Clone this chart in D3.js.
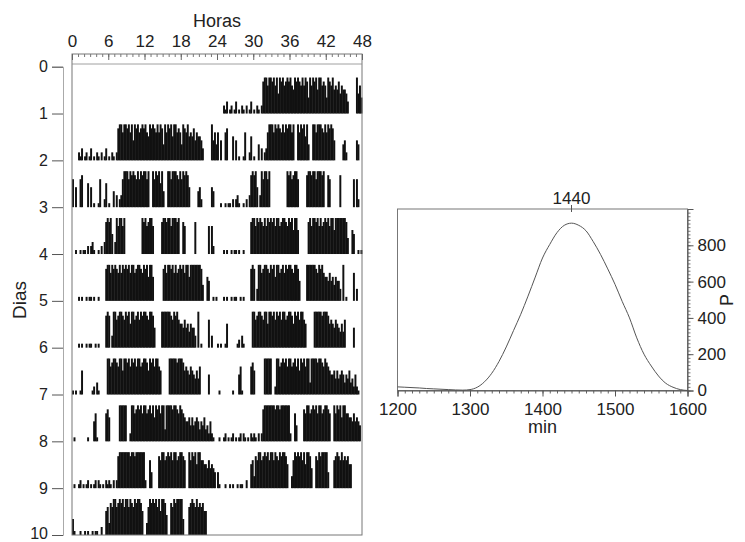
<!DOCTYPE html>
<html>
<head>
<meta charset="utf-8">
<script src="https://cdn.jsdelivr.net/npm/d3@7"></script>
<style>
  body { margin: 0; background: #fff; }
  text { font-family: "Liberation Sans", Arial, sans-serif; fill: #222; }
</style>
</head>
<body>
<svg id="chart" width="745" height="542"></svg>
<script>
// ---- Actogram data ----------------------------------------------------
const hourTicks = [0, 6, 12, 18, 24, 30, 36, 42, 48];
const dayTicks = [0, 1, 2, 3, 4, 5, 6, 7, 8, 9, 10];
const binsPerHour = 4;
// Activity per 15-min bin (level 0-9), one string per recorded day,
// grouped by hour (4 bins per group).
const activityDays = [
  "0000 2130 1201 3010 2102 0130 1021 0289 9799 8979 5989 7898 9769 8987 9798 4979 8969 9787 4987 9676 8576 6530 0000 9574",
  "7050 0780 0060 5010 0170 0260 1004 0302 3799 9798 9879 7989 9790 0979 8969 4009 9799 9879 7989 8500 0004 5200 0000 5400",
  "0010 0101 1020 2310 0102 0389 8950 3979 9790 0000 0000 0098 9789 9700 0008 9989 9799 9890 0870 0000 0800 0000 0070 7200",
  "0000 1010 0101 1010 0100 0089 9798 9879 7989 8979 9789 9879 8969 9600 0000 8979 9897 9789 8979 9699 9999 9840 0650 0101",
  "0000 1010 0101 1001 0100 0089 8039 9789 9879 8969 9789 7989 9879 9850 0009 9999 9879 8976 6575 6465 5309 0100 0070 3000",
  "1010 0160 0000 0120 3100 0009 9789 9879 9699 8979 8979 9789 9869 8979 9760 0000 9999 9899 9867 6576 5464 7000 0050 0000",
  "0100 0000 0010 0057 1000 0078 6000 0009 9999 0029 9789 8979 9789 7969 8979 9399 9989 9879 8765 5646 4565 3546 3425 2100",
  "0100 1201 0120 1012 0210 1021 2102 0289 9999 9989 9899 9999 2007 4000 0879 9789 8979 9789 9870 0979 8969 9776 6575 6540",
  "4100 0100 1010 0101 1002 0067 3879 9789 8979 9798 7989 9860 0379 8989 7969 9850 0879 8999 9400 0789 8797 8786 6000 0000"
];

// ---- Periodogram data -------------------------------------------------
const periodMin = [1200, 1210, 1220, 1230, 1240, 1250, 1260, 1270, 1280, 1290,
  1300, 1310, 1320, 1330, 1340, 1350, 1360, 1370, 1380, 1390,
  1400, 1410, 1420, 1430, 1440, 1450, 1460, 1470, 1480, 1490,
  1500, 1510, 1520, 1530, 1540, 1550, 1560, 1570, 1580, 1590, 1600];
const periodPower = [20, 18, 16, 14, 11, 9, 7, 5, 3, 2,
  5, 18, 48, 95, 160, 240, 330, 420, 520, 625,
  730, 805, 870, 910, 922, 910, 880, 820, 750, 670,
  585, 490, 400, 290, 200, 135, 80, 40, 18, 5, 0];
const periodTicksX = [1200, 1300, 1400, 1500, 1600];
const periodTicksY = [0, 200, 400, 600, 800];
const peakPeriod = 1440;

const svg = d3.select("#chart");

// ======================= Actogram =======================================
const ax = { left: 72, right: 362, top: 54, rulerBottom: 64, bottom: 535 };
const x = d3.scaleLinear().domain([0, 48]).range([ax.left, ax.right]);
const yDay = d3.scaleLinear().domain([0, 10]).range([66.7, 535]);
const hBar = d3.scaleLinear().domain([0, 9]).range([0, 36]);

const days = activityDays.map(s => s.replace(/\s+/g, "").split("").map(Number));
const binW = x(1 / binsPerHour) - x(0);

// Double plot: row r shows day r-1 on the left half and day r on the right half
const bars = [];
for (let r = 1; r <= 10; r++) {
  [[0, r - 2], [1, r - 1]].forEach(([half, di]) => {
    if (di < 0 || di >= days.length) return;
    days[di].forEach((v, i) => {
      if (v > 0) bars.push({ row: r, t: half * 24 + i / binsPerHour, v });
    });
  });
}

svg.append("g").attr("class", "actogram-bars")
  .selectAll("rect").data(bars).join("rect")
  .attr("x", d => x(d.t))
  .attr("width", binW + 0.45)
  .attr("y", d => yDay(d.row) - hBar(d.v))
  .attr("height", d => hBar(d.v))
  .attr("fill", "#111");

// frame
svg.append("rect")
  .attr("x", ax.left).attr("y", ax.top)
  .attr("width", ax.right - ax.left).attr("height", ax.bottom - ax.top)
  .attr("fill", "none").attr("stroke", "#777").attr("stroke-width", 1);
svg.append("line")
  .attr("x1", ax.left).attr("x2", ax.right)
  .attr("y1", ax.rulerBottom).attr("y2", ax.rulerBottom)
  .attr("stroke", "#888").attr("stroke-width", 0.8);

// hour ruler: hourly ticks hanging from the top edge
const ruler = svg.append("g").attr("transform", `translate(0,${ax.top})`)
  .call(d3.axisBottom(x).tickValues(d3.range(0, 49, 1)).tickSize(3).tickFormat(""));
ruler.select(".domain").remove();
ruler.selectAll("line").attr("stroke", "#777");
const rulerMajor = svg.append("g").attr("transform", `translate(0,${ax.top})`)
  .call(d3.axisBottom(x).tickValues(hourTicks).tickSize(6).tickFormat(""));
rulerMajor.select(".domain").remove();
rulerMajor.selectAll("line").attr("stroke", "#666");

// hour labels
const topAxis = svg.append("g").attr("transform", "translate(0,47)")
  .call(d3.axisTop(x).tickValues(hourTicks).tickSize(0).tickPadding(0));
topAxis.select(".domain").remove();
topAxis.selectAll("text").attr("font-size", 17).attr("fill", "#222");
svg.append("text").attr("x", x(24)).attr("y", 27)
  .attr("text-anchor", "middle").attr("font-size", 18).text("Horas");

// day axis
const dayAxis = svg.append("g").attr("transform", "translate(63,0)")
  .call(d3.axisLeft(yDay).tickValues(dayTicks).tickSize(11).tickPadding(4));
dayAxis.select(".domain").attr("stroke", "#aaa");
dayAxis.selectAll("line").attr("stroke", "#555");
dayAxis.selectAll("text").attr("font-size", 16).attr("fill", "#222")
  .attr("dy", d => d === 10 ? "0.2em" : "0.32em");
svg.append("text")
  .attr("transform", "translate(26,300) rotate(-90)")
  .attr("text-anchor", "middle").attr("font-size", 19).text("Dias");

// ======================= Periodogram ====================================
const pb = { left: 397.5, right: 687.5, top: 209, bottom: 390.5 };
const px = d3.scaleLinear().domain([1200, 1600]).range([pb.left, pb.right]);
const py = d3.scaleLinear().domain([0, 1000]).range([pb.bottom, pb.top]);

svg.append("rect")
  .attr("x", pb.left).attr("y", pb.top)
  .attr("width", pb.right - pb.left).attr("height", pb.bottom - pb.top)
  .attr("fill", "none").attr("stroke", "#777").attr("stroke-width", 1);

const xMinor = svg.append("g").attr("transform", `translate(0,${pb.bottom})`)
  .call(d3.axisBottom(px).tickValues(d3.range(1200, 1601, 10)).tickSize(3).tickFormat(""));
xMinor.select(".domain").remove();
xMinor.selectAll("line").attr("stroke", "#666");
const xAxis = svg.append("g").attr("transform", `translate(0,${pb.bottom})`)
  .call(d3.axisBottom(px).tickValues(periodTicksX).tickSize(6).tickPadding(6)
    .tickFormat(d3.format("d")));
xAxis.select(".domain").attr("stroke", "#555");
xAxis.selectAll("line").attr("stroke", "#555");
xAxis.selectAll("text").attr("font-size", 17).attr("fill", "#222");
svg.append("text").attr("x", px(1400)).attr("y", 433)
  .attr("text-anchor", "middle").attr("font-size", 18).text("min");

const yMinor = svg.append("g").attr("transform", `translate(${pb.right},0)`)
  .call(d3.axisRight(py).tickValues(d3.range(0, 1001, 20)).tickSize(3).tickFormat(""));
yMinor.select(".domain").remove();
yMinor.selectAll("line").attr("stroke", "#777");
const yAxis = svg.append("g").attr("transform", `translate(${pb.right},0)`)
  .call(d3.axisRight(py).tickValues(periodTicksY).tickSize(6).tickPadding(4));
yAxis.select(".domain").attr("stroke", "#555");
yAxis.selectAll("line").attr("stroke", "#555");
yAxis.selectAll("text").attr("font-size", 17).attr("fill", "#222");
svg.append("text")
  .attr("transform", "translate(733,300) rotate(-90)")
  .attr("text-anchor", "middle").attr("font-size", 18).text("P");

// peak marker
svg.append("line")
  .attr("x1", px(peakPeriod)).attr("x2", px(peakPeriod))
  .attr("y1", pb.top - 4).attr("y2", pb.top + 3)
  .attr("stroke", "#555");
svg.append("text").attr("x", px(peakPeriod)).attr("y", pb.top - 5)
  .attr("text-anchor", "middle").attr("font-size", 17).text(peakPeriod);

const line = d3.line()
  .x((d, i) => px(periodMin[i]))
  .y(d => py(d))
  .curve(d3.curveMonotoneX);
svg.append("path").datum(periodPower)
  .attr("d", line)
  .attr("fill", "none").attr("stroke", "#555").attr("stroke-width", 1);
</script>
</body>
</html>
